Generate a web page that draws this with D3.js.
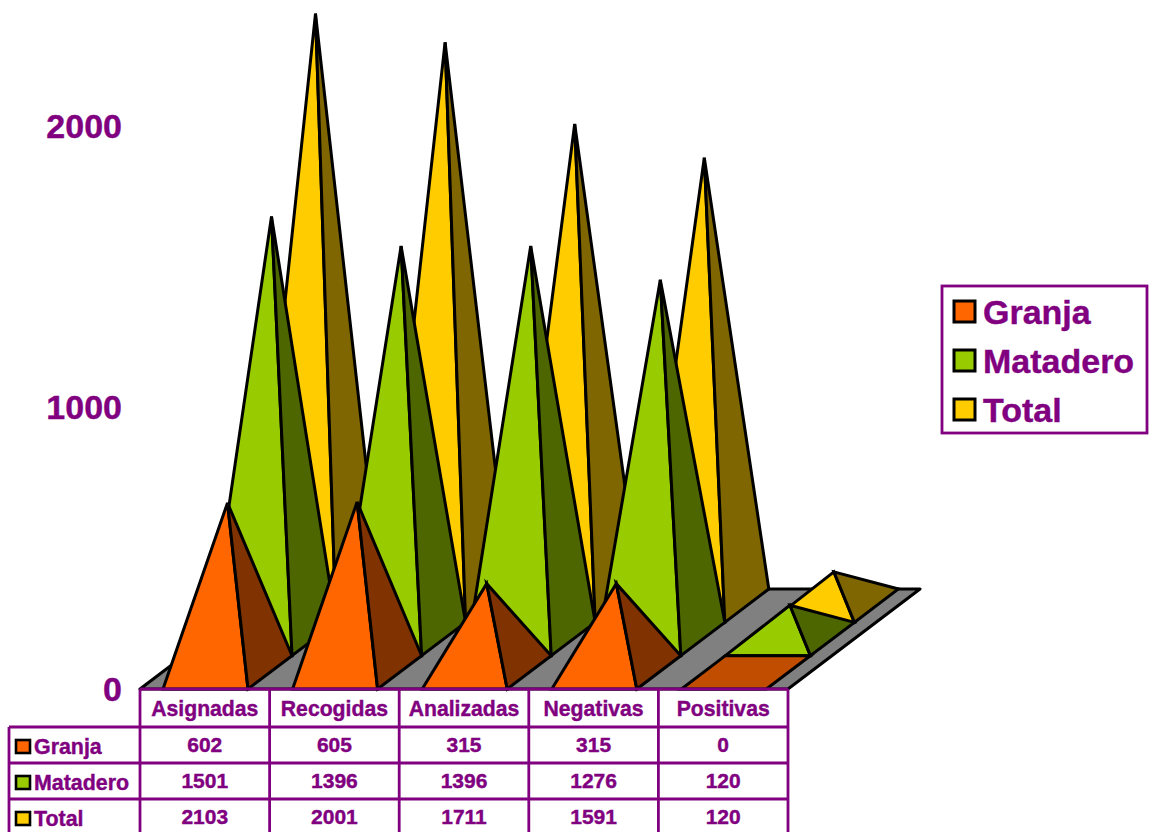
<!DOCTYPE html>
<html>
<head>
<meta charset="utf-8">
<script src="https://cdn.jsdelivr.net/npm/d3@7"></script>
<style>
  html, body { margin: 0; padding: 0; background: #fff; overflow: hidden; }
  text { font-family: "Liberation Sans", Arial, sans-serif; font-weight: bold; fill: #800080; stroke: #800080; stroke-width: 0.4px; }
</style>
</head>
<body>
<script>
var categories = ["Asignadas", "Recogidas", "Analizadas", "Negativas", "Positivas"];
var seriesNames = ["Granja", "Matadero", "Total"];
var granja = [602, 605, 315, 315, 0];
var matadero = [1501, 1396, 1396, 1276, 120];
var total = [2103, 2001, 1711, 1591, 120];
var yTicks = [0, 1000, 2000];

var seriesValues = [granja, matadero, total];
var frontColors = ["#ff6600", "#99cc00", "#ffcc00"];
var sideColors = ["#803300", "#4d6600", "#806600"];
var flatColor = "#c04d00";
var purple = "#800080";

var width = 1149, height = 832;
var floorLeft = 140, floorRight = 788, floorY = 689;
var depthX = 132, depthY = 100;

var svg = d3.select("body").append("svg")
  .attr("width", width)
  .attr("height", height)
  .style("display", "block");

// x along the front edge, value up, depth goes back and to the right
var x = d3.scaleBand().domain(categories).range([floorLeft, floorRight])
  .paddingInner(0.344).paddingOuter(0.172);
var y = d3.scaleLinear().domain([0, 2000]).range([floorY, 126]);
var depth = d3.scaleBand().domain(seriesNames).range([0, 1]);

// project a point of the floor (plus a height in chart units) to the screen
function project(px, d, v) {
  return [px + d * depthX, y(v || 0) - d * depthY];
}

function poly(points) {
  return "M" + points.map(function(p) { return p.join(","); }).join("L") + "Z";
}

// ****************** floor ***************************
svg.append("path")
  .attr("d", poly([project(floorLeft, 0), project(floorRight, 0), project(floorRight, 1), project(floorLeft, 1)]))
  .attr("fill", "#808080")
  .attr("stroke", "#000")
  .attr("stroke-width", 3)
  .attr("stroke-linejoin", "round");

// ****************** pyramids, back row first ***************************
d3.range(seriesNames.length - 1, -1, -1).forEach(function(s) {
  var name = seriesNames[s];
  var d0 = depth(name), d1 = d0 + depth.bandwidth();
  var g = svg.append("g").attr("class", "series")
    .attr("transform", "translate(0.7,0)");

  categories.forEach(function(cat, i) {
    var v = seriesValues[s][i];
    var x0 = x(cat), x1 = x0 + x.bandwidth();
    var a = project(x0, d0), b = project(x1, d0), c = project(x1, d1), e = project(x0, d1);
    var apex = project((x0 + x1) / 2, (d0 + d1) / 2, v);

    if (v === 0) {
      g.append("path").attr("d", poly([a, b, c, e])).attr("fill", flatColor);
    } else {
      g.append("path").attr("d", poly([a, apex, b])).attr("fill", frontColors[s]);
      g.append("path").attr("d", poly([b, apex, c])).attr("fill", sideColors[s]);
    }
  });

  g.selectAll("path")
    .attr("stroke", "#000")
    .attr("stroke-width", 3)
    .attr("stroke-linejoin", "miter");
});

// ****************** value axis ***************************
var axis = svg.append("g")
  .attr("transform", "translate(127,0.5)")
  .call(d3.axisLeft(y).tickValues(yTicks).tickSize(0).tickPadding(5).tickFormat(d3.format("d")));
axis.select(".domain").remove();
axis.selectAll("text")
  .style("font-family", '"Liberation Sans", Arial, sans-serif')
  .style("font-size", "34px")
  .style("font-weight", "bold")
  .attr("fill", purple);

// ****************** data table ***************************
var tableLeft = 9;
var rowLines = [727, 763, 799];
var table = svg.append("g")
  .attr("stroke", purple)
  .attr("stroke-width", 2.8);

table.append("line").attr("x1", floorLeft).attr("x2", floorRight).attr("y1", floorY).attr("y2", floorY);
rowLines.forEach(function(ry) {
  table.append("line").attr("x1", tableLeft).attr("x2", floorRight).attr("y1", ry).attr("y2", ry);
});
table.append("line").attr("x1", tableLeft).attr("x2", tableLeft).attr("y1", rowLines[0]).attr("y2", height);
d3.range(categories.length + 1).forEach(function(i) {
  var lx = floorLeft + i * x.step();
  table.append("line").attr("x1", lx).attr("x2", lx).attr("y1", floorY).attr("y2", height);
});

categories.forEach(function(cat, i) {
  var cx = x(cat) + x.bandwidth() / 2;
  svg.append("text")
    .attr("x", cx).attr("y", 716)
    .attr("text-anchor", "middle")
    .style("font-size", "21.2px")
    .text(cat);
  seriesValues.forEach(function(vals, s) {
    svg.append("text")
      .attr("x", cx).attr("y", 752 + s * 36)
      .attr("text-anchor", "middle")
      .style("font-size", "21px")
      .text(vals[i]);
  });
});

seriesNames.forEach(function(name, s) {
  svg.append("rect")
    .attr("x", 16).attr("y", 740 + s * 36)
    .attr("width", 14).attr("height", 13)
    .attr("fill", frontColors[s])
    .attr("stroke", "#000").attr("stroke-width", 2.6);
  svg.append("text")
    .attr("x", 34).attr("y", 754 + s * 36)
    .style("font-size", "21.4px")
    .text(name);
});

// ****************** legend ***************************
svg.append("rect")
  .attr("x", 942).attr("y", 286)
  .attr("width", 205).attr("height", 147)
  .attr("fill", "#fff")
  .attr("stroke", purple)
  .attr("stroke-width", 2.8);

var legendY = d3.scalePoint().domain(seriesNames).range([312, 410]);
seriesNames.forEach(function(name, s) {
  svg.append("rect")
    .attr("x", 954).attr("y", legendY(name) - 11)
    .attr("width", 21).attr("height", 21)
    .attr("fill", frontColors[s])
    .attr("stroke", "#000").attr("stroke-width", 3);
  svg.append("text")
    .attr("x", 983).attr("y", legendY(name) + 12)
    .style("font-size", "34px")
    .text(name);
});
</script>
</body>
</html>
